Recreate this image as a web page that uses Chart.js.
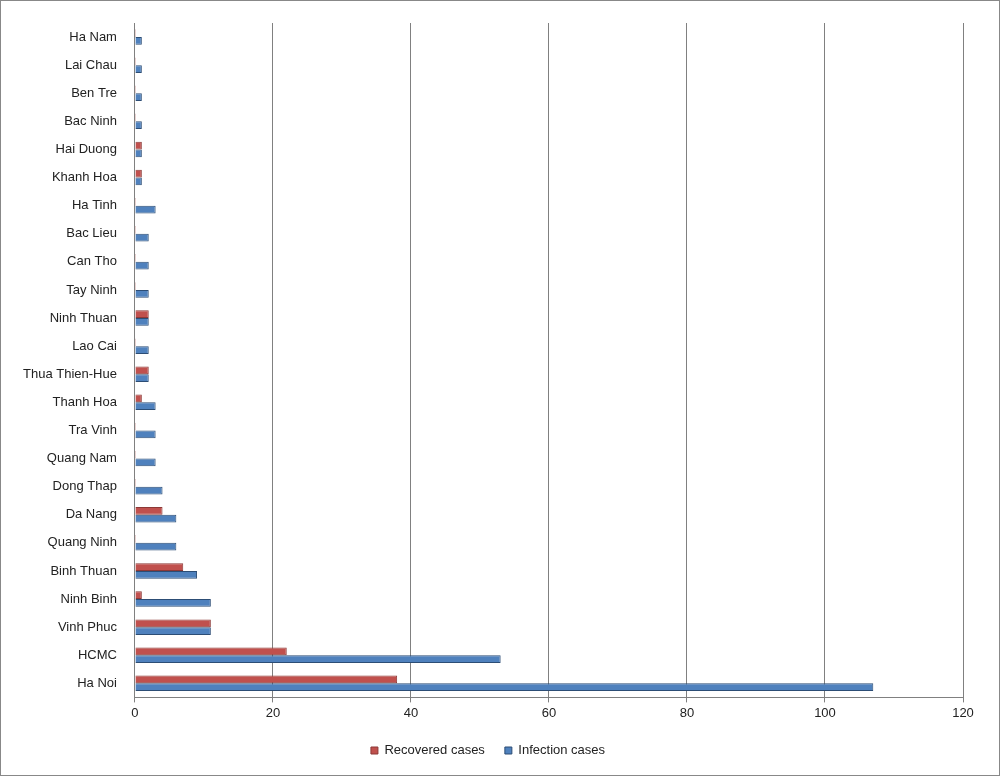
<!DOCTYPE html>
<html><head><meta charset="utf-8">
<script src="https://cdn.jsdelivr.net/npm/chart.js@4/dist/chart.umd.min.js"></script>
<style>html,body{margin:0;padding:0;background:#fff}#w{width:998px;height:774px;border:1px solid #888;position:relative}</style>
</head><body><div id="w"><canvas id="c"></canvas></div>
<script>
const categories=["Ha Nam","Lai Chau","Ben Tre","Bac Ninh","Hai Duong","Khanh Hoa","Ha Tinh","Bac Lieu","Can Tho","Tay Ninh","Ninh Thuan","Lao Cai","Thua Thien-Hue","Thanh Hoa","Tra Vinh","Quang Nam","Dong Thap","Da Nang","Quang Ninh","Binh Thuan","Ninh Binh","Vinh Phuc","HCMC","Ha Noi"];
const recovered=[0,0,0,0,1,1,0,0,0,0,2,0,2,1,0,0,0,4,0,7,1,11,22,38];
const infection=[1,1,1,1,1,1,3,2,2,2,2,2,2,3,3,3,4,6,6,9,11,11,53,107];
const ticks=[0,20,40,60,80,100,120];
new Chart(document.getElementById('c'),{type:'bar',
data:{labels:categories,datasets:[
{label:'Recovered cases',data:recovered,backgroundColor:'#c0504d',borderColor:'#8c3836',borderWidth:1,barPercentage:1,categoryPercentage:0.55,minBarLength:1},
{label:'Infection cases',data:infection,backgroundColor:'#4f81bd',borderColor:'#2c4d75',borderWidth:1,barPercentage:1,categoryPercentage:0.55}]},
options:{indexAxis:'y',responsive:true,maintainAspectRatio:false,animation:false,
layout:{padding:{left:12,right:36,top:22,bottom:8}},
plugins:{legend:{position:'bottom',labels:{boxWidth:7,boxHeight:7,font:{family:'Liberation Sans',size:13},color:'#222',padding:20}},tooltip:{enabled:false}},
scales:{x:{min:0,max:120,ticks:{stepSize:20,color:'#222',font:{family:'Liberation Sans',size:13}},grid:{color:'#808080',drawTicks:true,tickLength:5},border:{color:'#808080'}},
y:{ticks:{color:'#222',padding:10,font:{family:'Liberation Sans',size:13}},grid:{display:false},border:{color:'#808080'}}}}});
</script></body></html>
